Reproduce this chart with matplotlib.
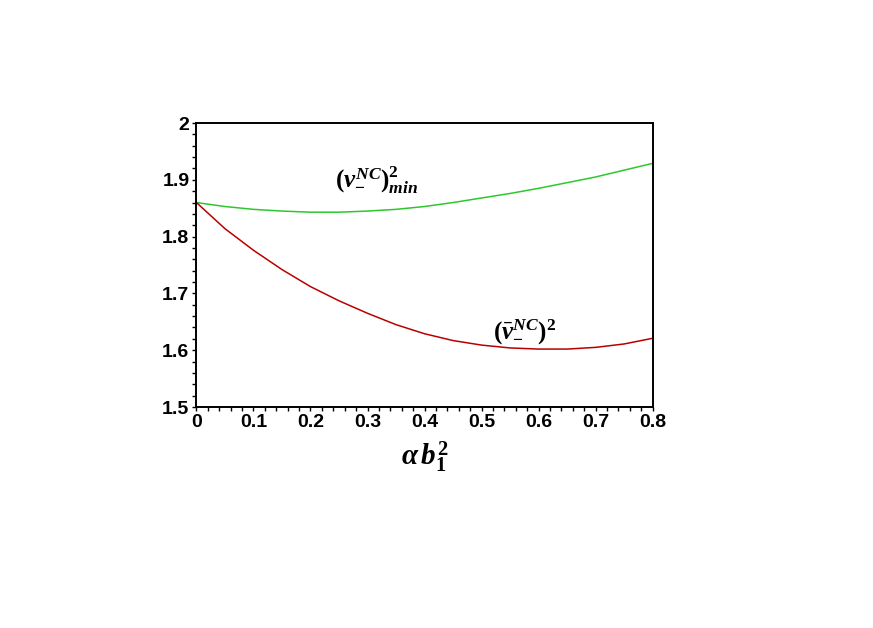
import numpy as np
from matplotlib import pyplot as plt
from matplotlib.ticker import MultipleLocator

# values
x_vals = [0.0, 0.05, 0.1, 0.15, 0.2, 0.25, 0.3, 0.35, 0.4,
          0.45, 0.5, 0.55, 0.6, 0.65, 0.7, 0.75, 0.8]
nu_min = [1.860, 1.853, 1.848, 1.845, 1.843, 1.843, 1.845, 1.848, 1.853,
          1.860, 1.868, 1.876, 1.885, 1.895, 1.905, 1.917, 1.929]
nu_bar = [1.860, 1.814, 1.776, 1.742, 1.712, 1.687, 1.665, 1.645, 1.629,
          1.617, 1.609, 1.604, 1.602, 1.602, 1.605, 1.611, 1.621]

xticks = [0, 0.1, 0.2, 0.3, 0.4, 0.5, 0.6, 0.7, 0.8]
xtick_labels = ['0', '0.1', '0.2', '0.3', '0.4', '0.5', '0.6', '0.7', '0.8']
yticks = [1.5, 1.6, 1.7, 1.8, 1.9, 2.0]
ytick_labels = ['1.5', '1.6', '1.7', '1.8', '1.9', '2']

# bold serif maths like the Maple output
plt.rcParams['mathtext.fontset'] = 'custom'
plt.rcParams['mathtext.rm'] = 'Liberation Serif:bold'
plt.rcParams['mathtext.it'] = 'Liberation Serif:italic:bold'
plt.rcParams['mathtext.bf'] = 'Liberation Serif:bold'

fig = plt.figure(figsize=(8.73, 6.28), dpi=100)
ax = fig.add_axes([0.2250, 0.3519, 0.5226, 0.4522])

ax.plot(x_vals, nu_min, color='#2ec82e', lw=1.1)
ax.plot(x_vals, nu_bar, color='#b80000', lw=1.1)

ax.set_xlim(0, 0.8)
ax.set_ylim(1.5, 2.0)
ax.set_xticks(xticks)
ax.set_xticklabels(xtick_labels)
ax.set_yticks(yticks)
ax.set_yticklabels(ytick_labels)
ax.xaxis.set_minor_locator(MultipleLocator(0.02))
ax.yaxis.set_minor_locator(MultipleLocator(0.02))
ax.tick_params(which='both', direction='out', length=3, width=1, pad=2)
for lab in ax.get_xticklabels() + ax.get_yticklabels():
    lab.set_family('Liberation Sans')
    lab.set_fontweight('bold')
    lab.set_fontsize(14)
for sp in ax.spines.values():
    sp.set_linewidth(1.4)

ax.set_xlabel(r'$\alpha\,b_{1}^{2}$', fontsize=21, labelpad=6)

ax.text(0.243, 1.900, r'$(\nu_{-}^{NC})^{2}_{min}$',
        fontsize=18, ha='left', va='center')
ax.text(0.52, 1.632, r'$(\bar{\nu}_{-}^{NC})^{2}$',
        fontsize=18, ha='left', va='center')

fig.savefig('out.png', dpi=100)
